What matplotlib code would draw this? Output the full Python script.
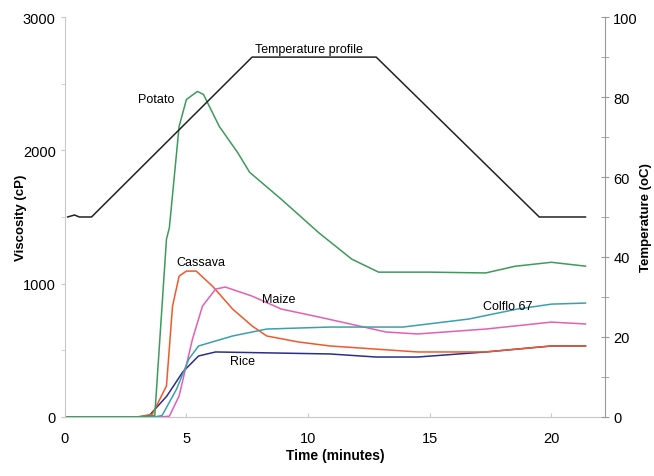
import matplotlib.pyplot as plt

plt.rcParams['font.family'] = ['Liberation Sans', 'DejaVu Sans']

# Temperature profile (oC)
temp_t = [0.12, 0.4, 0.6, 1.1, 7.7, 12.8, 19.5, 21.4]
temp_v = [50, 50.5, 50, 50, 90, 90, 50, 50]

# Viscosity curves (cP)
potato_t = [0.1, 3.0, 3.7, 4.18, 4.3, 4.7, 5.0, 5.45, 5.7, 6.35, 7.1, 7.6, 8.9, 10.45, 11.8, 12.9,
            15.0, 17.3, 18.5, 20.0, 21.4]
potato_v = [0, 0, 10, 1333, 1420, 2180, 2382, 2442, 2420, 2180, 1985, 1835, 1633, 1380, 1183, 1086,
            1086, 1080, 1130, 1160, 1131]

cassava_t = [0.1, 3.0, 3.6, 4.18, 4.43, 4.7, 5.0, 5.4, 6.07, 6.9, 7.7, 8.3, 9.6, 10.9, 14.5, 17.3, 20.0, 21.4]
cassava_v = [0, 0, 20, 232, 831, 1056, 1094, 1094, 981, 809, 682, 607, 562, 532, 487, 487, 532, 532]

maize_t = [0.1, 4.0, 4.3, 4.7, 5.25, 5.66, 6.2, 6.6, 7.7, 8.9, 10.45, 13.2, 14.5, 17.3, 20.0, 21.4]
maize_v = [0, 0, 5, 157, 584, 831, 959, 974, 906, 809, 749, 637, 622, 659, 711, 697]

colflo_t = [0.1, 3.7, 4.0, 4.6, 5.1, 5.5, 6.9, 8.3, 10.9, 13.9, 16.6, 18.6, 20.0, 21.4]
colflo_v = [0, 0, 10, 210, 434, 532, 607, 659, 674, 674, 734, 809, 846, 854]

rice_t = [0.1, 3.3, 3.5, 4.2, 4.85, 5.5, 6.2, 10.9, 12.8, 14.5, 17.3, 20.0, 21.4]
rice_v = [0, 0, 15, 157, 337, 457, 487, 472, 449, 449, 487, 532, 532]

fig = plt.figure(figsize=(6.54, 4.77), dpi=100)
ax = fig.add_axes([0.099, 0.124, 0.826, 0.838])
ax2 = ax.twinx()

ax.plot(rice_t, rice_v, color='#2b2f86', lw=1.1)
ax.plot(cassava_t, cassava_v, color='#f2582a', lw=1.1)
ax.plot(maize_t, maize_v, color='#e35fb3', lw=1.1)
ax.plot(colflo_t, colflo_v, color='#3c9fae', lw=1.1)
ax.plot(potato_t, potato_v, color='#3d9a5c', lw=1.1)
ax2.plot(temp_t, temp_v, color='#222222', lw=1.1)

ax.set_xlim(0, 22.2)
ax.set_ylim(0, 3000)
ax2.set_ylim(0, 100)
ax.set_xticks([0, 5, 10, 15, 20])
ax.set_yticks([0, 1000, 2000, 3000])
ax.set_yticks([500, 1500, 2500], minor=True)
ax2.set_yticks([0, 20, 40, 60, 80, 100])
ax2.set_yticks([10, 30, 50, 70, 90], minor=True)

for a in (ax, ax2):
    a.spines['top'].set_visible(False)
ax.spines['left'].set_color('#c8c8c8')
ax.spines['bottom'].set_color('#c8c8c8')
ax.spines['right'].set_visible(False)
ax2.spines['left'].set_visible(False)
ax2.spines['bottom'].set_visible(False)
ax2.spines['right'].set_color('#999999')

ax.tick_params(axis='x', direction='in', length=3, color='#c8c8c8', labelsize=10.5, pad=10)
ax.tick_params(axis='y', which='both', direction='out', length=3, color='#c8c8c8', labelsize=10.5)
ax2.tick_params(axis='y', which='both', direction='inout', length=6, color='#999999', labelsize=10.5, pad=3)

ax.set_xlabel('Time (minutes)', fontsize=10, fontweight='bold', labelpad=2)
ax.set_ylabel('Viscosity (cP)', fontsize=9.5, fontweight='bold')
ax2.set_ylabel('Temperature (oC)', fontsize=9.5, fontweight='bold')
ax.yaxis.set_label_coords(-0.07, 0.5)
ax2.yaxis.set_label_coords(1.064, 0.5)

ax.text(7.8, 2740, 'Temperature profile', fontsize=9)
ax.text(3.0, 2360, 'Potato', fontsize=9)
ax.text(4.6, 1140, 'Cassava', fontsize=9)
ax.text(8.1, 860, 'Maize', fontsize=9)
ax.text(17.2, 810, 'Colflo 67', fontsize=9)
ax.text(6.8, 395, 'Rice', fontsize=9)

fig.savefig('out.png', dpi=100)
